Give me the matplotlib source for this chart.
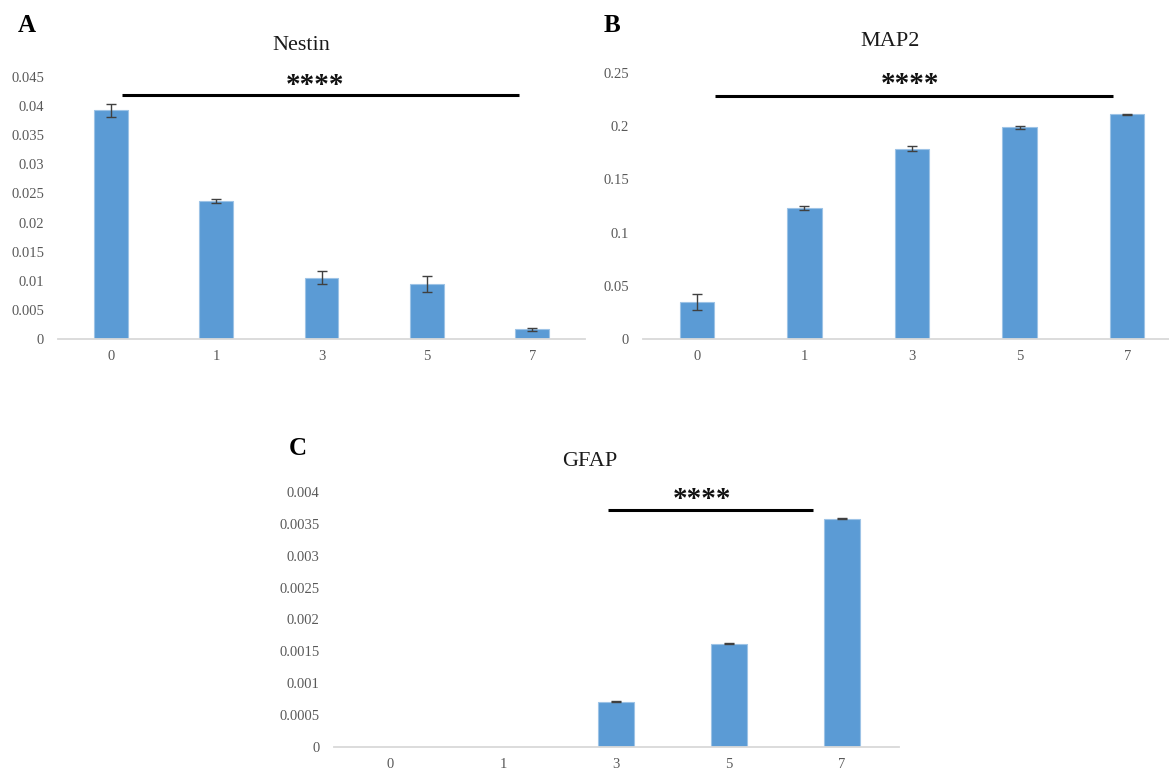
import matplotlib
matplotlib.use("Agg")
import matplotlib.pyplot as plt

# ---- data ----
categories = ["0", "1", "3", "5", "7"]

nestin_vals = [0.0393, 0.0237, 0.0105, 0.0095, 0.0017]
nestin_err = [0.0011, 0.00026, 0.0011, 0.0014, 0.00026]
nestin_ticks = [0, 0.005, 0.01, 0.015, 0.02, 0.025, 0.03, 0.035, 0.04, 0.045]
nestin_ticklabels = ["0", "0.005", "0.01", "0.015", "0.02", "0.025", "0.03", "0.035", "0.04", "0.045"]

map2_vals = [0.0345, 0.123, 0.179, 0.199, 0.211]
map2_err = [0.0075, 0.002, 0.002, 0.0015, 0.0005]
map2_ticks = [0, 0.05, 0.1, 0.15, 0.2, 0.25]
map2_ticklabels = ["0", "0.05", "0.1", "0.15", "0.2", "0.25"]

gfap_vals = [0.0, 0.0, 0.00071, 0.00162, 0.00358]
gfap_err = [0.0, 0.0, 0.00001, 0.000005, 0.000005]
gfap_ticks = [0, 0.0005, 0.001, 0.0015, 0.002, 0.0025, 0.003, 0.0035, 0.004]
gfap_ticklabels = ["0", "0.0005", "0.001", "0.0015", "0.002", "0.0025", "0.003", "0.0035", "0.004"]

# significance bars: (x start index, x end index, y), star label
nestin_sig = (0.11, 3.87, 0.0419)
map2_sig = (0.17, 3.87, 0.2286)
gfap_sig = (1.93, 3.74, 0.00372)
sig_label = "****"

BLUE = "#5B9BD5"
SERIF = "Liberation Serif"
W, H = 1169, 771

fig = plt.figure(figsize=(W / 100, H / 100), dpi=100)


def px_axes(x0, x1, ytop, ybot):
    return fig.add_axes([x0 / W, 1 - ybot / H, (x1 - x0) / W, (ybot - ytop) / H])


def draw(ax, vals, err, ticks, ticklabels, ymax, sig, star_xy):
    x = list(range(len(categories)))
    ax.bar(x, vals, width=0.32, color=BLUE, edgecolor="#9DC3E6", linewidth=0.8, zorder=2)
    ex = [xi for xi, v in zip(x, vals) if v > 0]
    ev = [v for v in vals if v > 0]
    ee = [e for e, v in zip(err, vals) if v > 0]
    ax.errorbar(ex, ev, yerr=ee, fmt="none", ecolor="#404040", elinewidth=1.0,
                capsize=3.5, capthick=1.0, zorder=3)
    ax.set_xlim(-0.5, len(categories) - 0.5)
    ax.set_ylim(0, ymax)
    ax.set_xticks(x)
    ax.set_xticklabels(categories)
    ax.set_yticks(ticks)
    ax.set_yticklabels(ticklabels)
    for s in ["top", "right", "left"]:
        ax.spines[s].set_visible(False)
    ax.spines["bottom"].set_color("#D9D9D9")
    ax.spines["bottom"].set_linewidth(1.3)
    ax.tick_params(axis="both", length=0, labelsize=10.5, labelcolor="#595959")
    ax.tick_params(axis="y", pad=10)
    ax.tick_params(axis="x", pad=8)
    for lab in ax.get_xticklabels() + ax.get_yticklabels():
        lab.set_fontfamily(SERIF)
    ax.plot([sig[0], sig[1]], [sig[2], sig[2]], color="black", lw=2.2, clip_on=False,
            solid_capstyle="butt", zorder=4)
    ax.text(star_xy[0], star_xy[1], sig_label, ha="center", va="center",
            fontsize=21, family=SERIF, weight="bold", color="#111111",
            clip_on=False)


axA = px_axes(58, 585, 77, 339)
draw(axA, nestin_vals, nestin_err, nestin_ticks, nestin_ticklabels, 0.045,
     nestin_sig, (1.94, 0.0436))

axB = px_axes(643, 1181, 73, 339)
draw(axB, map2_vals, map2_err, map2_ticks, map2_ticklabels, 0.25,
     map2_sig, (1.98, 0.239))

axC = px_axes(333.5, 898.5, 492, 747)
draw(axC, gfap_vals, gfap_err, gfap_ticks, gfap_ticklabels, 0.004,
     gfap_sig, (2.76, 0.00389))


def ftext(x, y, s, **kw):
    fig.text(x / W, 1 - y / H, s, ha="center", va="center", **kw)


ftext(301, 46, "Nestin", fontsize=16, family=SERIF, color="#1a1a1a")
ftext(890, 41, "MAP2", fontsize=16, family=SERIF, color="#1a1a1a")
ftext(590, 461, "GFAP", fontsize=16, family=SERIF, color="#1a1a1a")

ftext(27, 26, "A", fontsize=18, family=SERIF, weight="bold", color="black")
ftext(612, 26, "B", fontsize=18, family=SERIF, weight="bold", color="black")
ftext(298, 448, "C", fontsize=18, family=SERIF, weight="bold", color="black")

fig.savefig("out.png", dpi=100)
